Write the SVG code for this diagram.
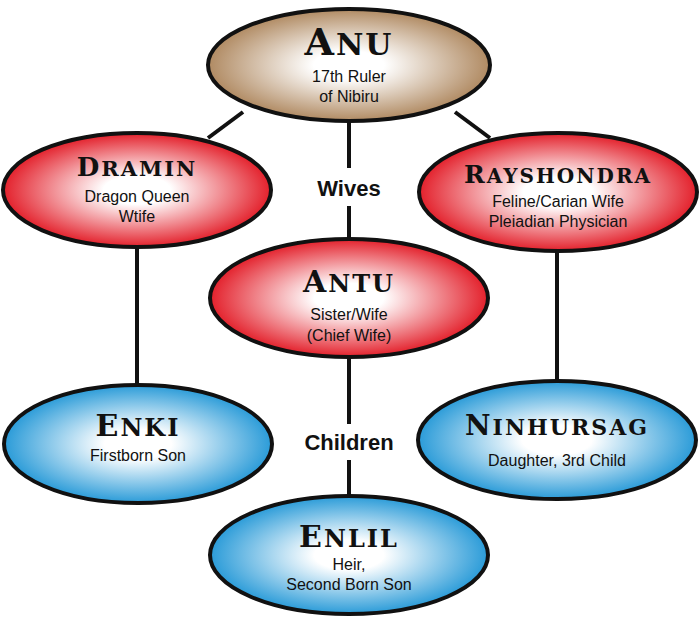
<svg xmlns="http://www.w3.org/2000/svg" width="700" height="619" viewBox="0 0 700 619">
<defs>
<radialGradient id="gb" cx="50%" cy="50%" r="50%"><stop offset="0.25" stop-color="#fff"/><stop offset="1" stop-color="#b08a62"/></radialGradient>
<radialGradient id="gr" cx="50%" cy="50%" r="50%"><stop offset="0.25" stop-color="#fff"/><stop offset="1" stop-color="#e3202b"/></radialGradient>
<radialGradient id="gl" cx="50%" cy="50%" r="50%"><stop offset="0.25" stop-color="#fff"/><stop offset="1" stop-color="#2a9bd8"/></radialGradient>
<style>
ellipse{stroke:#111;stroke-width:4}
.t{font-family:"DejaVu Serif",serif;font-weight:bold;text-anchor:middle;fill:#111;letter-spacing:2px}
.s{font-family:"Liberation Sans",Arial,sans-serif;font-size:16px;text-anchor:middle;fill:#111}
.l{font-family:"Liberation Sans",Arial,sans-serif;font-weight:bold;font-size:22px;text-anchor:middle;fill:#111}
#c line{stroke:#111;stroke-width:4}
</style>
</defs>
<g id="c">
<line x1="243" y1="112" x2="208" y2="138"/>
<line x1="455" y1="112" x2="490" y2="138"/>
<line x1="349" y1="120" x2="349" y2="168"/>
<line x1="349" y1="206" x2="349" y2="240"/>
<line x1="137" y1="247" x2="137" y2="386"/>
<line x1="557" y1="251" x2="557" y2="381"/>
<line x1="349" y1="357" x2="349" y2="424"/>
<line x1="349" y1="460" x2="349" y2="496"/>
</g>
<text class="l" x="349" y="196">Wives</text>
<text class="l" x="349" y="450">Children</text>
<g id="anu"><ellipse cx="349" cy="65" rx="141" ry="56" fill="url(#gb)"/>
<text class="t" x="349" y="55" font-size="30"><tspan font-size="38">A</tspan>NU</text>
<text class="s" x="349" y="82">17th Ruler</text><text class="s" x="349" y="102">of Nibiru</text></g>
<g id="dramin"><ellipse cx="137" cy="190" rx="134" ry="57" fill="url(#gr)"/>
<text class="t" x="137" y="176" font-size="21"><tspan font-size="26">D</tspan>RAMIN</text>
<text class="s" x="137" y="202">Dragon Queen</text><text class="s" x="137" y="222">Wtife</text></g>
<g id="rayshondra"><ellipse cx="558" cy="192" rx="139" ry="59" fill="url(#gr)"/>
<text class="t" x="558" y="183" font-size="20"><tspan font-size="25">R</tspan>AYSHONDRA</text>
<text class="s" x="558" y="207">Feline/Carian Wife</text><text class="s" x="558" y="227">Pleiadian Physician</text></g>
<g id="antu"><ellipse cx="349" cy="298" rx="139" ry="59" fill="url(#gr)"/>
<text class="t" x="349" y="292" font-size="24"><tspan font-size="30">A</tspan>NTU</text>
<text class="s" x="349" y="320">Sister/Wife</text><text class="s" x="349" y="341">(Chief Wife)</text></g>
<g id="enki"><ellipse cx="138" cy="444" rx="134" ry="59" fill="url(#gl)"/>
<text class="t" x="138" y="436" font-size="24"><tspan font-size="30">E</tspan>NKI</text>
<text class="s" x="138" y="461">Firstborn Son</text></g>
<g id="ninhursag"><ellipse cx="557" cy="440" rx="139" ry="59" fill="url(#gl)"/>
<text class="t" x="557" y="435" font-size="22"><tspan font-size="28">N</tspan>INHURSAG</text>
<text class="s" x="557" y="466">Daughter, 3rd Child</text></g>
<g id="enlil"><ellipse cx="349" cy="555" rx="139" ry="59" fill="url(#gl)"/>
<text class="t" x="349" y="547" font-size="24"><tspan font-size="30">E</tspan>NLIL</text>
<text class="s" x="349" y="570">Heir,</text><text class="s" x="349" y="590">Second Born Son</text></g>
</svg>
